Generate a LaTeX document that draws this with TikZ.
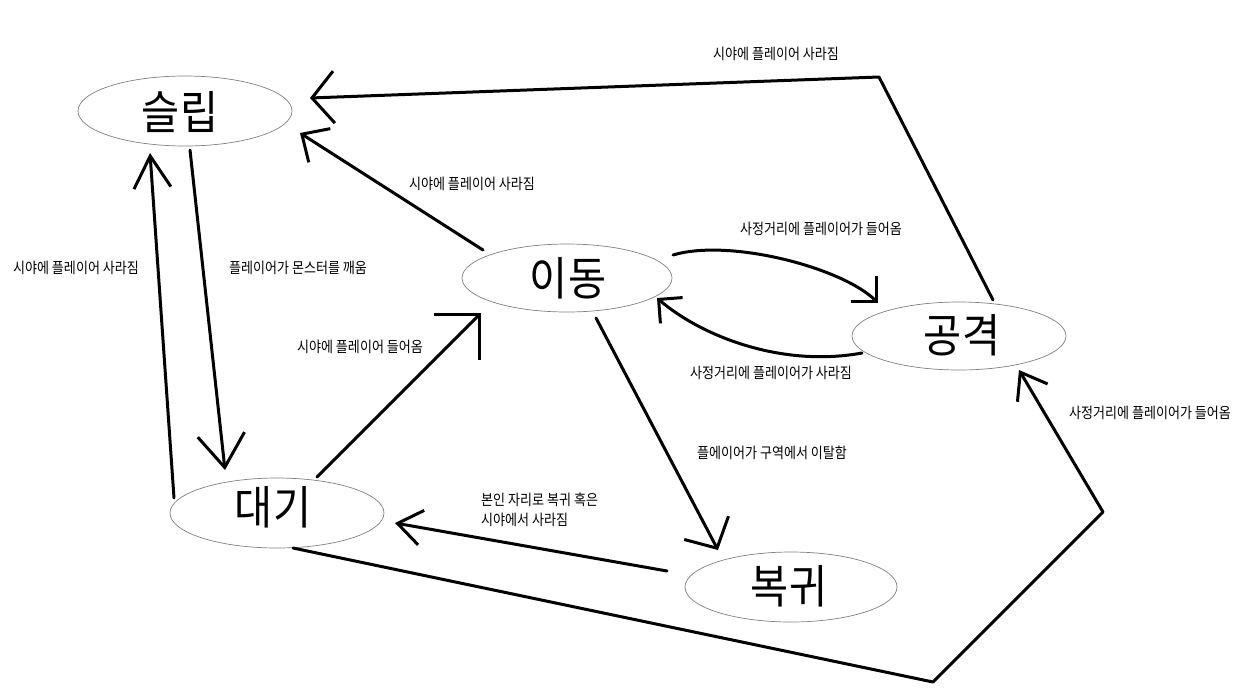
\documentclass[tikz,border=0pt]{standalone}
\usepackage{fontspec}
\setmainfont{Noto Sans CJK KR}[FakeStretch=0.9]
\newfontfamily\lblfont{Noto Sans CJK KR}[FakeStretch=0.87]
\usetikzlibrary{shapes.geometric,arrows.meta}
\begin{document}
\begin{tikzpicture}[x=1pt,y=-1pt,
  state/.style={ellipse, draw=black!50, line width=0.7pt, inner sep=0pt,
    minimum width=214pt, minimum height=70pt},
  big/.style={font=\fontsize{46}{46}\selectfont, inner sep=0pt},
  lbl/.style={font=\lblfont\fontsize{15}{19}\selectfont, inner sep=0pt},
  conn/.style={line width=3pt, line join=round, line cap=round}]
\fill[white] (0,0) rectangle (1246,691);
\useasboundingbox (0,0) rectangle (1246,691);

% states
\node[state] (slip) at (185,111) {};
\node[state, minimum width=210pt, minimum height=68pt] (move) at (567,278) {};
\node[state, minimum height=68pt] (atk) at (959,336) {};
\node[state] (wait) at (277,513) {};
\node[state, minimum width=212pt] (ret) at (791,587) {};
\node[big] (slipT) at (180,112) {슬립};
\node[big] (moveT) at (568,278) {이동};
\node[big] (atkT) at (962,335) {공격};
\node[big] (waitT) at (273,507) {대기};
\node[big] (retT) at (789,586) {복귀};

% connector end points
\coordinate (a0) at (993,300);
\coordinate (a1) at (879,77);
\coordinate (a2) at (310,98);
\coordinate (b0) at (483,250);
\coordinate (b1) at (300,133);
\coordinate (c0) at (190,150);
\coordinate (c1) at (225,470);
\coordinate (d0) at (174,498);
\coordinate (d1) at (150,153);
\coordinate (e0) at (317,477);
\coordinate (e1) at (481,313);
\coordinate (f0) at (596,318);
\coordinate (f1) at (718,550);
\coordinate (g0) at (667,571);
\coordinate (g1) at (395,523);
\coordinate (h0) at (293,548);
\coordinate (h1) at (933,682);
\coordinate (h2) at (1103,512);
\coordinate (h3) at (1019,370);
\coordinate (i0) at (673,255);
\coordinate (i1) at (878,303);
\coordinate (j0) at (862,353);
\coordinate (j1) at (657,298);

% connectors
\draw[conn, -{Straight Barb[length=22pt,width=52pt]}] (a0) -- (a1) -- (a2);
\draw[conn, -{Straight Barb[length=21pt,width=40pt]}] (b0) -- (b1);
\draw[conn, -{Straight Barb[length=33pt,width=47pt]}] (c0) -- (c1);
\draw[conn, -{Straight Barb[length=32pt,width=37pt]}] (d0) -- (d1);
\draw[conn, -{Straight Barb[length=32pt,width=64pt]}] (e0) -- (e1);
\draw[conn, -{Straight Barb[length=23pt,width=50pt]}] (f0) -- (f1);
\draw[conn, -{Straight Barb[length=24pt,width=35pt]}] (g0) -- (g1);
\draw[conn, -{Straight Barb[length=24pt,width=35pt]}] (h0) -- (h1) -- (h2) -- (h3);
\draw[conn, -{Straight Barb[length=18pt,width=36pt]}] (i0) .. controls (730,238) and (843,268) .. (i1);
\draw[conn, -{Straight Barb[length=17pt,width=34pt]}] (j0) .. controls (780,368) and (700,335) .. (j1);

% labels
\node[lbl] (l1) at (776,54) {시야에 플레이어 사라짐};
\node[lbl] (l2) at (472,184) {시야에 플레이어 사라짐};
\node[lbl] (l3) at (76,268) {시야에 플레이어 사라짐};
\node[lbl] (l4) at (298,268) {플레이어가 몬스터를 깨움};
\node[lbl] (l5) at (360,347) {시야에 플레이어 들어옴};
\node[lbl] (l6) at (821,229) {사정거리에 플레이어가 들어옴};
\node[lbl] (l7) at (771,373) {사정거리에 플레이어가 사라짐};
\node[lbl] (l8) at (1150,413) {사정거리에 플레이어가 들어옴};
\node[lbl] (l9) at (772,453) {플에이어가 구역에서 이탈함};
\node[lbl, anchor=west, align=left, font=\lblfont\fontsize{15}{20}\selectfont] (l10) at (481,510) {본인 자리로 복귀 혹은\\시야에서 사라짐};
\end{tikzpicture}
\end{document}
